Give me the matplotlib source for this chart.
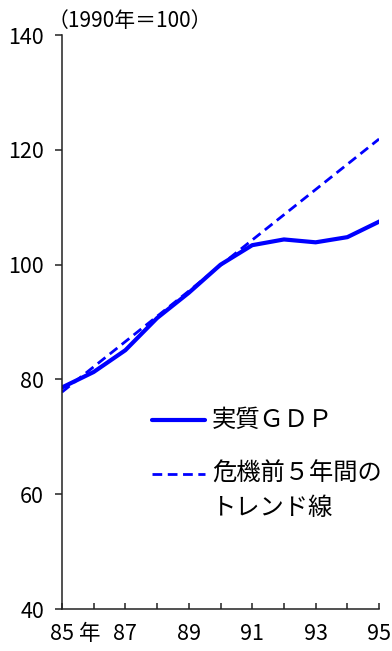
import matplotlib
matplotlib.use("Agg")
import matplotlib.pyplot as plt
from matplotlib.lines import Line2D

plt.rcParams['font.family'] = ['Noto Sans CJK JP', 'DejaVu Sans']

# Real GDP index (1990 = 100) and the pre-crisis five-year trend line
years = [1985, 1986, 1987, 1988, 1989, 1990, 1991, 1992, 1993, 1994, 1995]
real_gdp = [78.6, 81.3, 85.1, 90.7, 95.1, 100.0, 103.4, 104.4, 103.9, 104.8, 107.5]
trend = [77.8, 82.2, 86.6, 91.0, 95.4, 99.9, 104.3, 108.7, 113.1, 117.5, 121.9]

xtick_years = [1985, 1987, 1989, 1991, 1993, 1995]
xtick_labels = ["85", "87", "89", "91", "93", "95"]
yticks = [40, 60, 80, 100, 120, 140]

series_labels = ["実質ＧＤＰ", "危機前５年間の", "トレンド線"]
unit_label = "（1990年＝100）"
blue = "#0000FF"
xpad = 10

fig = plt.figure(figsize=(3.92, 6.51), dpi=100)
ax = fig.add_axes([0.158, 0.0645, 0.809, 0.8815])

ax.plot(years, trend, color=blue, lw=2.0, dashes=(3.5, 2.0), solid_capstyle='butt')
ax.plot(years, real_gdp, color=blue, lw=3.0, solid_joinstyle='round')

ax.set_xlim(1985, 1995)
ax.set_ylim(40, 140)
ax.set_yticks(yticks)
ax.set_yticklabels([str(v) for v in yticks])
ax.set_xticks(years)
ax.set_xticklabels([xtick_labels[xtick_years.index(y)] if y in xtick_years else "" for y in years])

for side in ("top", "right"):
    ax.spines[side].set_visible(False)
for side in ("left", "bottom"):
    ax.spines[side].set_linewidth(1.1)
    ax.spines[side].set_color("#222222")

ax.tick_params(axis='y', direction='out', length=5, width=1.1, labelsize=15.5, pad=8, color="#222222")
ax.tick_params(axis='x', direction='in', length=4, width=1.1, labelsize=15.5, pad=xpad, color="#222222")

# year marker next to the first x tick label
ax.annotate("年", xy=(1985.88, 0), xycoords=('data', 'axes fraction'),
            xytext=(0, -xpad), textcoords='offset points',
            ha='center', va='top', fontsize=15.5)

# unit label above the axis
ax.text(-0.045, 1.006, unit_label, transform=ax.transAxes, ha='left', va='bottom', fontsize=15)

# legend drawn as sample lines with labels
ax.add_line(Line2D([0.284, 0.451], [0.329, 0.329], transform=ax.transAxes,
                   color=blue, lw=3.0, solid_capstyle='round'))
ax.add_line(Line2D([0.284, 0.451], [0.235, 0.235], transform=ax.transAxes,
                   color=blue, lw=2.0, dashes=(3.5, 2.0)))
ax.text(0.473, 0.329, series_labels[0], transform=ax.transAxes, ha='left', va='center', fontsize=17.5)
ax.text(0.473, 0.235, series_labels[1], transform=ax.transAxes, ha='left', va='center', fontsize=17.5)
ax.text(0.473, 0.176, series_labels[2], transform=ax.transAxes, ha='left', va='center', fontsize=17.5)

fig.savefig("out.png", dpi=100)
